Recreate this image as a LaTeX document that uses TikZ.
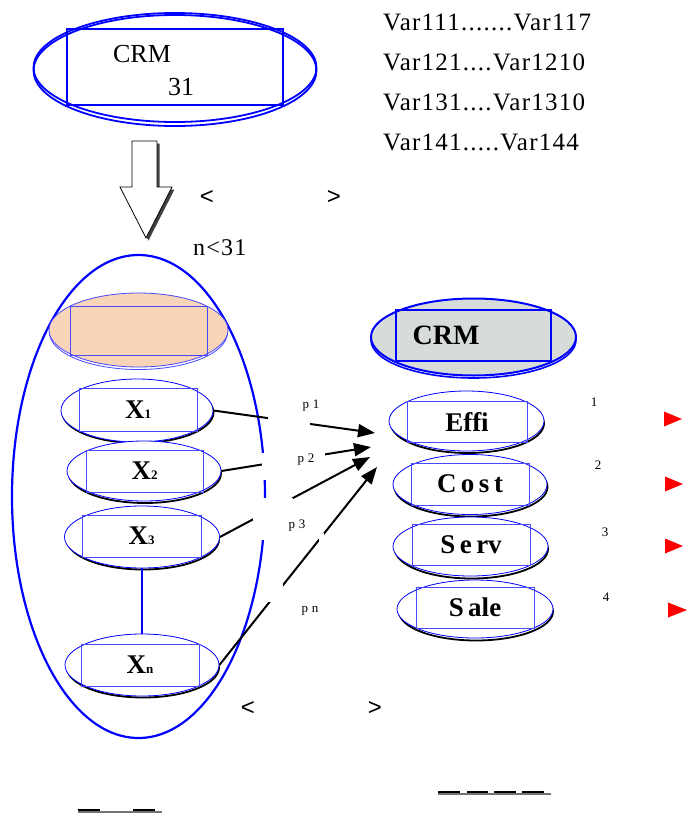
\documentclass[tikz,border=0pt]{standalone}
\usepackage{fontspec}
\setmainfont{Liberation Serif}
\newfontfamily\arialf{Liberation Sans}
\newfontfamily\spacedserif[LetterSpace=5]{Liberation Serif}
\usetikzlibrary{shapes.geometric,arrows.meta}
\definecolor{peach}{HTML}{F8D4B8}
\definecolor{lgray}{HTML}{D8DCD9}
\definecolor{mblue}{HTML}{0000FF}
\definecolor{lblue}{HTML}{4848FF}
\begin{document}
\begin{tikzpicture}[x=1pt,y=-1pt,
  oval/.style={ellipse, draw=mblue, line width=0.8pt, fill=white, inner sep=0pt},
  shad/.style={draw=black, line width=1.8pt},
  inbox/.style={rectangle, draw=lblue, line width=0.8pt, inner sep=0pt, font=\fontsize{27}{30}\selectfont\bfseries},
  plab/.style={font=\spacedserif\fontsize{13}{15}\selectfont},
  numlab/.style={font=\fontsize{13}{15}\selectfont},
  vartext/.style={anchor=base west, inner sep=0pt, font=\spacedserif\fontsize{25}{28}\selectfont},
  angle/.style={font=\arialf\fontsize{24}{28}\selectfont, inner sep=0pt},
  link/.style={line width=2pt, -{Triangle[length=17pt,width=13pt]}},
  occl/.style={fill=white}
]
\useasboundingbox (0,0) rectangle (688,814);

% ---------- top CRM ellipse ----------
\draw[mblue, line width=1.8pt] (175,70.5) ellipse [x radius=141.5pt, y radius=55.5pt];
\node[ellipse, draw=mblue, line width=1.8pt, inner sep=0pt, minimum width=283pt, minimum height=109pt] (topell) at (175,67.5) {};
\node[rectangle, draw=mblue, line width=2pt, inner sep=0pt, minimum width=216pt, minimum height=76pt] (toprect) at (175,67) {};
\node[anchor=base, inner sep=0pt, font=\fontsize{26}{30}\selectfont] (crmtop) at (142,62) {CRM};
\node[anchor=base, inner sep=0pt, font=\fontsize{26}{30}\selectfont] (n31) at (181,95) {31};

% ---------- variable list ----------
\node[vartext] (v1) at (383,30) {Var111.......Var117};
\node[vartext] (v2) at (383,70) {Var121....Var1210};
\node[vartext] (v3) at (383,110) {Var131....Var1310};
\node[vartext] (v4) at (383,150) {Var141.....Var144};

% ---------- block arrow ----------
\fill[black!75] (134.5,143.5) -- (159.5,143.5) -- (159.5,189.5) -- (174.5,189.5) -- (148.5,240.5) -- (122.5,189.5) -- (134.5,189.5) -- cycle;
\draw[fill=white, line width=0.8pt] (132,141) -- (157,141) -- (157,187) -- (172,187) -- (146,238) -- (120,187) -- (132,187) -- cycle;

\node[angle] (lt1) at (207,198) {<};
\node[angle] (gt1) at (334,198) {>};
\node[anchor=base west, inner sep=0pt, font=\spacedserif\fontsize{24}{28}\selectfont] (nlt) at (193,255) {n<31};

% ---------- big ellipse ----------
\node[ellipse, draw=mblue, line width=2.2pt, inner sep=0pt, minimum width=253pt, minimum height=483pt] (big) at (138.5,496.5) {};

% peach ellipse
\draw[lblue, line width=0.8pt] (138.5,332.5) ellipse [x radius=89pt, y radius=37pt];
\node[ellipse, draw=lblue, line width=0.8pt, fill=peach, inner sep=0pt, minimum width=179pt, minimum height=74pt] (pe) at (138.5,330) {};
\node[rectangle, draw=lblue, line width=0.8pt, inner sep=0pt, minimum width=137pt, minimum height=49pt] (per) at (138.5,330.5) {};

% X1
\draw[shad] (138,412.5) ellipse [x radius=75.5pt, y radius=30.5pt];
\node[oval, minimum width=152pt, minimum height=63pt] (e1) at (137,410.5) {};
\node[inbox, minimum width=118pt, minimum height=43pt] (x1) at (138,409.5) {X{\fontsize{13}{15}\selectfont 1}};
% X2
\draw[shad] (145,473.5) ellipse [x radius=76pt, y radius=29.5pt];
\node[oval, minimum width=154pt, minimum height=60pt] (e2) at (144,471) {};
\node[inbox, minimum width=117pt, minimum height=42pt] (x2) at (144.5,471) {X{\fontsize{13}{15}\selectfont 2}};
% X3
\draw[shad] (143,539.5) ellipse [x radius=76pt, y radius=30pt];
\node[oval, minimum width=155pt, minimum height=62pt] (e3) at (142,537) {};
\node[inbox, minimum width=119pt, minimum height=42pt] (x3) at (141.5,536) {X{\fontsize{13}{15}\selectfont 3}};
% Xn
\draw[shad] (143,667.5) ellipse [x radius=76pt, y radius=30pt];
\node[oval, minimum width=154pt, minimum height=62pt] (en) at (142,665) {};
\node[inbox, minimum width=118pt, minimum height=42pt] (xn) at (140,665) {X{\fontsize{13}{15}\selectfont n}};

\draw[mblue, line width=1.8pt] (e3.south) -- (en.north);

% ---------- right CRM ellipse ----------
\draw[mblue, line width=1.6pt] (473.5,340) ellipse [x radius=102.5pt, y radius=38pt];
\node[ellipse, draw=mblue, line width=2pt, fill=lgray, inner sep=0pt, minimum width=205pt, minimum height=77pt] (crmell) at (473.5,337) {};
\node[rectangle, draw=mblue, line width=2.2pt, inner sep=0pt, minimum width=155pt, minimum height=51pt] (crmrect) at (473.5,335.5) {};
\node[anchor=base, inner sep=0pt, font=\fontsize{28}{32}\selectfont\bfseries] (crmlab) at (446,344) {CRM};

% Effi
\draw[shad] (467.5,423.5) ellipse [x radius=76.5pt, y radius=29.5pt];
\node[oval, minimum width=155pt, minimum height=60pt] (effi) at (466.5,421) {};
\node[inbox, minimum width=120pt, minimum height=41pt] (effir) at (467,421.5) {Effi};
% Cost
\draw[shad] (471,487) ellipse [x radius=76.5pt, y radius=29.5pt];
\node[oval, minimum width=154pt, minimum height=60pt] (cost) at (470,484.5) {};
\node[inbox, minimum width=118pt, minimum height=42pt] (costr) at (470,484) {C\,o\,s\,t};
% Serv
\draw[shad] (471.5,549) ellipse [x radius=76.5pt, y radius=29.5pt];
\node[oval, minimum width=155pt, minimum height=59pt] (serv) at (470.5,546.5) {};
\node[inbox, minimum width=118pt, minimum height=41pt] (servr) at (471,544.5) {S\,e\,rv};
% Sale
\draw[shad] (476,611.5) ellipse [x radius=77pt, y radius=29pt];
\node[oval, minimum width=156pt, minimum height=58pt] (sale) at (475,609) {};
\node[inbox, minimum width=118pt, minimum height=41pt] (saler) at (475,607.5) {S\,ale};

% ---------- arrows ----------
\coordinate (t1) at (375,433);
\coordinate (t2) at (371,447);
\coordinate (t3) at (370,457);
\coordinate (t4) at (377,467);
\draw[link] (e1.east) -- (t1);
\draw[link] (e2.east) -- (t2);
\draw[link] (e3.east) -- (t3);
\draw[link] (en.east) -- (t4);

% white gaps
\path[occl] (268,410) rectangle (310,431);
\path[occl] (261.5,453) rectangle (325,480);
\path[occl] (253,498) rectangle (293,540);
\path[occl] (267.5,580) rectangle (283,602);
\path[occl] (319,533) rectangle (324,542);

% path labels
\node[plab] (p1) at (311,406) {p 1};
\node[plab] (p2) at (306,460) {p 2};
\node[plab] (p3) at (297,526) {p 3};
\node[plab] (pn) at (310,611) {p n};

% numbers
\node[numlab] (k1) at (594,402) {1};
\node[numlab] (k2) at (598,465) {2};
\node[numlab] (k3) at (605,532) {3};
\node[numlab] (k4) at (606,597) {4};

% red triangles
\fill[red] (664,411.5) -- (682,419) -- (664,426.5) -- cycle;
\fill[red] (665,476.5) -- (683,484) -- (665,491.5) -- cycle;
\fill[red] (665,538.5) -- (683,546) -- (665,553.5) -- cycle;
\fill[red] (668,602.5) -- (687,610) -- (668,617.5) -- cycle;

\node[angle] (lt2) at (248,708) {<};
\node[angle] (gt2) at (375,708) {>};

% bottom underline marks
\draw[black!55, line width=1.2pt] (78,812) -- (162,812);
\draw[black, line width=2pt] (78,810) -- (100,810);
\draw[black, line width=2pt] (133,810) -- (155,810);
\draw[black!55, line width=1.2pt] (438,794) -- (551,794);
\draw[black, line width=2pt] (438,792) -- (460,792);
\draw[black, line width=2pt] (467,792) -- (488,792);
\draw[black, line width=2pt] (494,792) -- (516,792);
\draw[black, line width=2pt] (522,792) -- (544,792);
\end{tikzpicture}
\end{document}
